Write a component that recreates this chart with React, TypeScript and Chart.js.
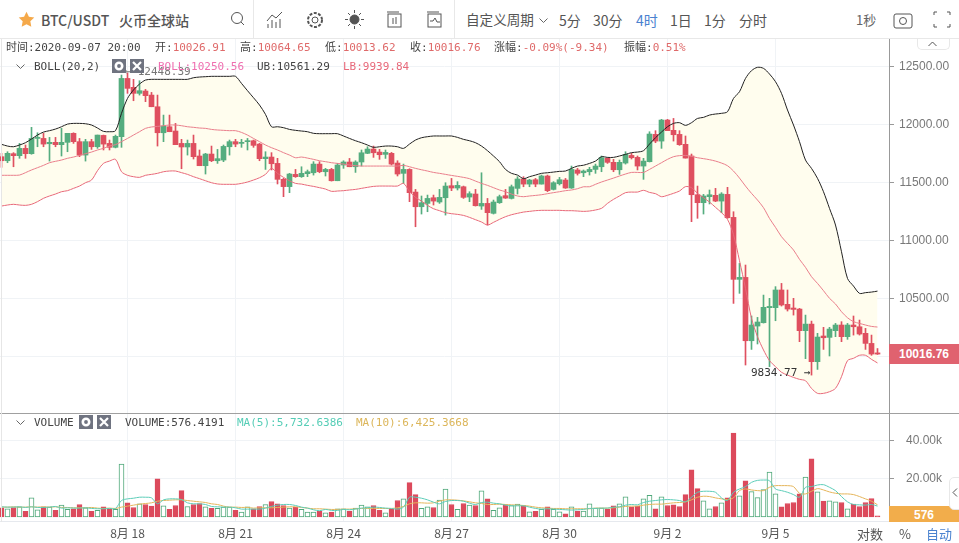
import React, { useRef, useEffect } from 'react';
import { Chart, registerables } from 'chart.js';

Chart.register(...registerables);

// open, high, low, close of every 4h candle, 8月 14 20:00 to 9月 7 20:00
const candles: number[][] = [
  [11724,11753,11632,11689],[11689,11767,11672,11753],[11750,11759,11637,11733],[11733,11839,11710,11796],[11796,11825,11710,11750],
  [11750,11978,11745,11882],[11882,11931,11810,11891],[11882,11926,11810,11833],[11836,11891,11686,11848],[11848,11891,11810,11828],
  [11828,11969,11730,11848],[11848,11926,11767,11926],[11926,11931,11839,11854],[11854,11882,11724,11738],[11738,11874,11686,11854],
  [11854,11874,11787,11810],[11810,11911,11796,11911],[11908,11911,11782,11833],[11839,11868,11782,11805],[11805,11911,11800,11900],
  [11897,12430,11805,12401],[12401,12448.39,12272,12315],[12324,12393,12208,12272],[12272,12381,12257,12295],[12292,12306,12200,12252],
  [12257,12280,12156,12156],[12156,12257,11816,11931],[11931,12084,11854,11989],[11983,12084,11940,11940],[11946,12012,11828,11828],
  [11839,11874,11620,11808],[11808,11868,11738,11839],[11839,11911,11704,11724],[11730,11782,11646,11646],[11646,11753,11574,11747],
  [11747,11816,11681,11689],[11689,11787,11666,11707],[11695,11825,11681,11813],[11810,11868,11738,11854],[11854,11874,11810,11833],
  [11839,11874,11805,11848],[11854,11882,11782,11862],[11862,11868,11805,11822],[11833,11839,11689,11707],[11707,11767,11614,11721],
  [11721,11759,11609,11663],[11666,11710,11488,11528],[11528,11537,11378,11465],[11465,11580,11413,11574],[11571,11614,11545,11551],
  [11551,11637,11545,11580],[11577,11609,11551,11594],[11585,11681,11565,11660],[11660,11681,11585,11594],[11594,11623,11557,11614],
  [11614,11623,11513,11516],[11516,11666,11516,11652],[11652,11689,11623,11678],[11678,11709,11637,11637],[11637,11689,11588,11678],
  [11678,11782,11643,11758],[11753,11810,11750,11790],[11790,11816,11718,11758],[11764,11787,11701,11741],[11744,11782,11709,11761],
  [11753,11761,11652,11660],[11669,11689,11557,11574],[11580,11660,11493,11614],[11614,11620,11335,11413],[11418,11441,11118,11291],
  [11291,11384,11228,11326],[11320,11392,11248,11363],[11369,11392,11306,11340],[11332,11441,11320,11372],[11369,11499,11219,11470],
  [11473,11536,11430,11453],[11453,11508,11436,11476],[11464,11470,11363,11372],[11375,11421,11335,11404],[11401,11441,11297,11300],
  [11297,11585,11268,11320],[11320,11363,11133,11240],[11234,11349,11228,11332],[11326,11392,11320,11378],[11387,11441,11363,11366],
  [11363,11479,11358,11464],[11450,11551,11401,11531],[11531,11551,11464,11487],[11487,11528,11464,11522],[11525,11536,11464,11487],
  [11487,11565,11487,11557],[11557,11565,11421,11430],[11441,11508,11436,11499],[11490,11545,11479,11525],[11522,11536,11450,11453],
  [11453,11643,11450,11614],[11609,11623,11565,11580],[11585,11609,11551,11600],[11594,11632,11565,11614],[11614,11660,11580,11643],
  [11637,11730,11594,11715],[11710,11715,11666,11675],[11675,11701,11594,11611],[11611,11695,11571,11675],[11669,11767,11660,11744],
  [11735,11753,11704,11715],[11718,11730,11609,11643],[11643,11710,11528,11686],[11681,11940,11678,11920],[11917,11949,11845,11859],
  [11859,12047,11796,12041],[12041,12047,11949,11949],[11952,12055,11859,11914],[11917,11949,11822,11828],[11831,11903,11712,11712],
  [11730,11747,11162,11395],[11395,11470,11191,11326],[11326,11398,11228,11384],[11378,11436,11315,11395],[11390,11450,11335,11340],
  [11340,11413,11240,11401],[11398,11459,11191,11196],[11199,11248,10455,10663],[10663,10801,10542,10680],[10680,10787,9922,10132],
  [10132,10346,10057,10268],[10259,10334,10104,10294],[10288,10527,10285,10421],[10418,10499,9908,10429],[10418,10600,10305,10571],
  [10571,10628,10432,10441],[10447,10571,10389,10406],[10415,10499,10354,10403],[10406,10412,10124,10219],[10219,10354,9977,10276],
  [10276,10302,9834.77,9951],[9951,10196,9884,10164],[10173,10248,10057,10158],[10161,10248,10000,10233],[10219,10282,10167,10268],
  [10268,10297,10124,10167],[10167,10282,10144,10268],[10268,10346,10181,10253],[10253,10311,10181,10190],[10196,10239,10057,10109],
  [10109,10181,10006,10017],[10026.91,10064.65,10013.62,10016.76],
];

const upperBand = [
  11831,11816,11810,11825,11845,11877,11911,11937,11949,11963,11983,12006,12012,12012,12009,11998,11972,11943,11940,11949,
  12099,12228,12301,12352,12387,12393,12393,12393,12393,12393,12393,12393,12407,12413,12416,12419,12419,12419,12419,12419,
  12358,12295,12234,12171,12090,11983,11983,11975,11960,11952,
  11946,11940,11926,11923,11923,11923,11923,11903,11882,11862,11845,11825,11805,11810,11816,11816,11810,11796,11833,11868,
  11888,11897,11903,11903,11903,11903,11891,11874,11862,11845,11816,11776,11730,11681,11614,11580,11565,11534,11551,11565,
  11580,11585,11591,11597,11600,11623,11643,
  11650,11666,11686,11724,11718,11718,11730,11744,11759,11764,11776,11833,11888,11937,11983,12012,12018,11995,12018,12055,
  12064,12084,12093,12099,12113,12228,12286,12401,12468,12497,12488,12439,12373,12272,12128,11998,11854,11695,11623,11537,
  11421,11277,11133,10902,10671,10605,10542,10548,10553,10561.29,
];

const midBand = [
  11563,11563,11563,11565,11586,11609,11629,11649,11672,11684,11695,11710,11721,11735,11750,11764,11782,11796,11816,11828,
  11854,11882,11911,11940,11969,11981,11986,11992,11998,11998,11992,11983,11978,11972,11969,11960,11955,11952,11949,11949,
  11934,11911,11882,11854,11825,11802,11782,11759,11738,11715,
  11721,11712,11701,11689,11681,11672,11666,11660,11652,11646,11643,11643,11643,11643,11643,11643,11643,11649,11637,11623,
  11611,11600,11588,11580,11571,11562,11554,11545,11534,11513,11493,11476,11456,11436,11421,11401,11384,11378,11384,11389,
  11395,11404,11413,11421,11430,11436,11447,11464,
  11464,11485,11505,11522,11539,11557,11574,11588,11588,11588,11614,11643,11672,11701,11724,11733,11735,11727,11715,11707,
  11698,11686,11669,11646,11600,11539,11470,11407,11349,11283,11190,11113,11032,10974,10917,10836,10767,10686,10628,10565,
  10499,10450,10383,10331,10297,10282,10268,10256,10250.56,
];

const lowerBand = [
  11297,11306,11312,11306,11303,11312,11335,11364,11384,11401,11421,11430,11450,11470,11499,11522,11603,11666,11686,11701,
  11594,11563,11551,11545,11563,11571,11580,11594,11600,11600,11586,11571,11551,11534,11516,11499,11488,11485,11485,11485,
  11493,11505,11522,11542,11571,11623,11580,11545,11516,11493,
  11487,11476,11467,11456,11444,11424,11427,11430,11436,11441,11450,11459,11467,11470,11470,11470,11470,11493,11424,11372,
  11340,11303,11274,11257,11240,11231,11225,11216,11199,11179,11159,11133,11156,11182,11205,11222,11234,11245,11251,11257,
  11260,11260,11260,11260,11257,11257,11254,11251,
  11254,11263,11277,11320,11355,11384,11413,11418,11418,11433,11415,11404,11378,11390,11407,11427,11465,11456,11407,11369,
  11332,11286,11240,11182,11050,10824,10585,10326,10167,10052,9960,9908,9859,9835,9815,9798,9786,9720,9677,9677,
  9691,9720,9821,9960,9980,10006,10006,9971,9939.84,
];

const volumes = [
  4844,4325,5017,5363,2941,10034,3806,5363,5190,3460,6228,3979,4325,6574,4844,2941,3460,5363,4325,3979,
  27680,7439,5017,6920,6574,5709,20068,5882,3979,6055,13840,5536,6574,7093,5363,4498,4498,5190,5190,3460,
  2595,5363,4325,5536,6574,8131,6920,6055,4671,5190,3979,2595,2595,3114,2249,2595,4325,4325,3114,4671,
  6228,5363,6055,3460,2249,3979,8650,9515,17992,11764,4498,5363,5017,8823,14705,6574,3979,7093,6228,6055,
  13667,9515,3460,4844,6574,6055,6747,6055,2768,2941,3979,5363,3979,2768,1730,5363,3114,3114,6920,4671,
  4671,3979,5882,6920,10553,5363,5709,9515,11418,4325,10553,6055,6401,5536,11764,24739,14878,8477,4325,5536,
  7439,10034,43942,11072,19030,13321,10207,14359,23528,12110,5363,7093,7612,12110,20933,30448,13148,8304,8477,7958,
  7612,4325,6747,5536,7612,9688,576.4191,
];

const volumeMa5 = [
  5360,5190,5190,5360,5020,5360,5020,5020,5190,5540,4670,4840,4670,4670,4840,4500,4330,4330,4500,4500,
  8650,9520,9860,10380,10380,10030,6920,9000,9520,9520,9170,7440,6920,6920,6570,5540,5360,5190,5190,4840,
  4150,4150,4150,4150,4670,5540,6230,6570,6570,6060,5190,4670,3810,3290,
  3980,3460,3460,3980,3810,4150,4670,4840,5190,5020,4670,4500,4150,5190,10380,10380,9860,9000,7790,6920,
  8130,8650,8650,8300,7270,6570,7610,7790,7270,6920,6230,5880,5880,5880,5190,4500,4150,4330,4150,3980,
  3810,3630,3810,3980,4500,4500,4670,4670,5190,5360,6230,6570,6400,
  7610,8300,8650,9000,9170,9000,8650,7960,10380,12980,13490,13490,12980,10030,8650,12980,14710,15920,18170,19200,
  19380,19030,14710,13840,12980,11760,10380,15570,15920,16780,16950,15570,13840,10730,7960,6570,6400,6230,6570,5732.6,
];

const volumeMa10 = [
  5190,5190,5360,5190,5190,5360,5190,5360,5190,5360,5020,5020,4840,4840,4840,5020,4670,4500,4670,4500,
  5190,5710,6230,6750,7090,7440,8300,8650,8820,9000,9000,8650,8300,7960,7610,6920,6570,5710,5190,5190,
  5020,5020,4670,4840,4840,4840,5020,5190,5360,5360,5020,4670,4330,4330,
  4150,3980,3980,4150,4150,4330,4500,4500,4500,4500,4500,4500,4840,5540,6920,7440,7440,7270,7440,8300,
  9000,9000,8820,8480,7960,7440,7090,6570,6570,6750,6570,6400,6230,6060,5710,5190,4840,4670,4500,4500,
  4330,4330,4330,4330,4330,4670,4670,4670,4840,5190,5540,5710,5710,
  6230,6570,6750,6750,7090,7440,7610,7960,9000,10380,10900,10730,10030,9520,9170,10030,13840,14710,14190,13840,
  13840,15570,16440,16440,16440,15920,12460,12110,13490,14880,14190,13150,12460,12110,12110,11760,10730,9520,8300,6425.4,
];

const dateTickIndex = [21, 39, 57, 75, 93, 111, 129];
const dateTickLabels = ['8月 18', '8月 21', '8月 24', '8月 27', '8月 30', '9月 2', '9月 5'];
const priceTicks = [10000, 10500, 11000, 11500, 12000, 12500];
const volumeTicks = [20000, 40000];

const GREEN = '#55ad7f';
const RED = '#df5060';
const MONO = '"DejaVu Sans Mono", "Noto Sans CJK SC", monospace';
const SANS = '"Noto Sans CJK SC", "Liberation Sans", sans-serif';

const isUp = (i: number) => candles[i][3] >= candles[i][0];
const candleColors = candles.map((_, i) => (isUp(i) ? GREEN : RED));

// shared by both panes so the candles and volume bars line up, one slot is 6px
// the range puts candle centres on x.5 so the 5px bars land on whole pixels
const xAxis = (showLabels: boolean) => ({
  type: 'linear' as const,
  min: -0.25,
  max: 147.9167,
  offset: false,
  grid: { color: '#f0f3f6', offset: false, drawTicks: false },
  border: { display: showLabels, color: '#e6e9ee' },
  afterBuildTicks: (axis: any) => {
    axis.ticks = dateTickIndex.map((value) => ({ value }));
  },
  afterFit: (axis: any) => {
    axis.height = showLabels ? 21.5 : 0;
    axis.paddingLeft = 0;
    axis.paddingRight = 0;
  },
  ticks: {
    display: showLabels,
    autoSkip: false,
    maxRotation: 0,
    padding: 5,
    color: '#555',
    font: { family: SANS, size: 12 },
    callback: (value: any) => dateTickLabels[dateTickIndex.indexOf(Number(value))] ?? '',
  },
});

const yAxisBase = (padding: number) => ({
  position: 'right' as const,
  grid: { color: '#f0f3f6', tickColor: '#999', tickLength: 5 },
  border: { color: '#999' },
  afterFit: (axis: any) => {
    axis.width = 70;
    // no room for half a label above and below, the plot runs edge to edge
    axis.paddingTop = 0;
    axis.paddingBottom = 0;
  },
  ticks: {
    crossAlign: 'center' as const,
    padding,
    color: '#787878',
    font: { family: '"Liberation Sans"', size: 12 },
  },
});

// high and low of the visible range, written beside their candles
const extremeLabels = {
  id: 'extremeLabels',
  afterDatasetsDraw(chart: any) {
    const { ctx, scales } = chart;
    let hi = 0;
    let lo = 0;
    candles.forEach((c, i) => {
      if (c[1] > candles[hi][1]) hi = i;
      if (c[2] < candles[lo][2]) lo = i;
    });
    ctx.save();
    ctx.font = `11px ${MONO}`;
    ctx.textBaseline = 'middle';
    ctx.fillStyle = '#777';
    ctx.textAlign = 'left';
    ctx.fillText(`← ${candles[hi][1].toFixed(2)}`, scales.x.getPixelForValue(hi) - 3, scales.y.getPixelForValue(candles[hi][1]) - 1);
    ctx.fillStyle = '#333';
    ctx.textAlign = 'right';
    ctx.fillText(`${candles[lo][2].toFixed(2)} →`, scales.x.getPixelForValue(lo) - 1, scales.y.getPixelForValue(candles[lo][2]) - 2);
    ctx.restore();
  },
};

const bandLine = (label: string, values: number[], color: string, width: number, fill?: any) => ({
  type: 'line' as const,
  label,
  data: values.map((y, x) => ({ x, y })),
  borderColor: color,
  borderWidth: width,
  pointRadius: 0,
  tension: 0.3,
  fill: fill ?? false,
  backgroundColor: '#fffdee',
  order: 1,
});

const Text: React.FC<{ x: number; y: number; color?: string; size?: number; weight?: number; font?: string; children: React.ReactNode }> = ({
  x, y, color = '#444', size = 11, weight = 400, font = MONO, children,
}) => (
  <span
    style={{
      position: 'absolute', left: x, top: y, transform: 'translateY(-50%)', color, fontSize: size,
      fontFamily: font, fontWeight: weight, whiteSpace: 'pre', lineHeight: 1,
    }}
  >
    {children}
  </span>
);

const Icon: React.FC<{ x: number; y: number; w?: number; h?: number; children: React.ReactNode }> = ({ x, y, w = 20, h = 20, children }) => (
  <svg width={w} height={h} viewBox={`0 0 ${w} ${h}`} fill="none" stroke="#555" strokeWidth={1}
    style={{ position: 'absolute', left: x, top: y }}>
    {children}
  </svg>
);

const Chip: React.FC<{ x: number; y: number; gear?: boolean }> = ({ x, y, gear }) => (
  <svg width={14} height={14} viewBox="0 0 14 14" style={{ position: 'absolute', left: x, top: y }}>
    <rect width={14} height={14} fill="#6f7380" />
    {gear
      ? <circle cx={7} cy={7} r={3.2} fill="none" stroke="#fff" strokeWidth={2.6} />
      : <path d="M3 3 L11 11 M11 3 L3 11" stroke="#fff" strokeWidth={2.2} />}
  </svg>
);

const Chevron: React.FC<{ x: number; y: number }> = ({ x, y }) => (
  <svg width={9} height={6} viewBox="0 0 9 6" style={{ position: 'absolute', left: x, top: y }}>
    <path d="M0.5 0.5 L4.5 4.5 L8.5 0.5" fill="none" stroke="#666" />
  </svg>
);

const App: React.FC = () => {
  const priceRef = useRef<HTMLCanvasElement | null>(null);
  const volumeRef = useRef<HTMLCanvasElement | null>(null);

  useEffect(() => {
    if (!priceRef.current || !volumeRef.current) return;

    const priceChart = new Chart(priceRef.current, {
      type: 'bar',
      data: {
        datasets: [
          bandLine('UB', upperBand, '#222', 1, { target: 1 }),
          bandLine('LB', lowerBand, '#e8697a', 1),
          bandLine('BOLL', midBand, '#ea7f8c', 1),
          {
            label: 'wick',
            data: candles.map((c, x) => ({ x, y: [c[2], c[1]] })),
            backgroundColor: candleColors,
            barThickness: 1,
            grouped: false,
            order: 2,
          },
          {
            label: 'body',
            data: candles.map((c, x) => ({ x, y: [c[0], c[3]] })),
            backgroundColor: candleColors,
            barThickness: 5,
            minBarLength: 1,
            grouped: false,
            order: 2,
          },
        ] as any,
      },
      options: {
        responsive: false,
        animation: false,
        layout: { padding: 0 },
        plugins: {
          legend: { display: false },
          tooltip: { enabled: false },
          // band fill goes under the candles, not just under its own line
          filler: { drawTime: 'beforeDatasetsDraw' },
        },
        scales: {
          x: xAxis(false),
          y: {
            ...yAxisBase(5),
            min: 9507,
            max: 12742,
            afterBuildTicks: (axis: any) => {
              axis.ticks = priceTicks.map((value) => ({ value }));
            },
            ticks: {
              ...yAxisBase(5).ticks,
              // the last price tag sits on top of the 10000 tick
              callback: (value: any) => (Number(value) === 10000 ? '' : Number(value).toFixed(2)),
            },
          },
        } as any,
      },
      plugins: [extremeLabels],
    });

    const volumeChart = new Chart(volumeRef.current, {
      type: 'bar',
      data: {
        datasets: [
          {
            type: 'line',
            label: 'MA(5)',
            data: volumeMa5.map((y, x) => ({ x, y })),
            borderColor: '#5ccdb8',
            borderWidth: 1,
            pointRadius: 0,
            tension: 0.3,
            order: 1,
          },
          {
            type: 'line',
            label: 'MA(10)',
            data: volumeMa10.map((y, x) => ({ x, y })),
            borderColor: '#e5b55a',
            borderWidth: 1,
            pointRadius: 0,
            tension: 0.3,
            order: 1,
          },
          {
            label: 'VOLUME',
            data: volumes.map((y, x) => ({ x, y })),
            backgroundColor: candles.map((_, i) => (isUp(i) ? '#fff' : '#dc4a5c')),
            borderColor: candles.map((_, i) => (isUp(i) ? '#4fa87a' : '#dc4a5c')),
            borderWidth: 1,
            borderSkipped: false,
            barThickness: 5,
            order: 2,
          },
        ] as any,
      },
      options: {
        responsive: false,
        animation: false,
        layout: { padding: 0 },
        plugins: { legend: { display: false }, tooltip: { enabled: false } },
        scales: {
          x: xAxis(true),
          y: {
            ...yAxisBase(12),
            min: -2340,
            max: 54500,
            afterBuildTicks: (axis: any) => {
              axis.ticks = volumeTicks.map((value) => ({ value }));
            },
            ticks: {
              ...yAxisBase(12).ticks,
              callback: (value: any) => `${(Number(value) / 1000).toFixed(2)}k`,
            },
          },
        } as any,
      },
    });

    return () => {
      priceChart.destroy();
      volumeChart.destroy();
    };
  }, []);

  return (
    <div style={{ position: 'fixed', left: 0, top: 0, width: 959, height: 543, background: '#fff', overflow: 'hidden' }}>
      <canvas ref={priceRef} width={959} height={374} style={{ position: 'absolute', left: 0, top: 39 }} />
      <canvas ref={volumeRef} width={959} height={130} style={{ position: 'absolute', left: 0, top: 413 }} />

      {/* frame lines */}
      <div style={{ position: 'absolute', left: 0, top: 38, width: 959, height: 1, background: '#e8e8e8' }} />
      <div style={{ position: 'absolute', left: 0, top: 413, width: 959, height: 1, background: '#a0a0a0' }} />
      <div style={{ position: 'absolute', left: 1, top: 39, width: 1, height: 483, background: '#e6e6e6' }} />
      <div style={{ position: 'absolute', left: 253, top: 0, width: 1, height: 38, background: '#e8e8e8' }} />
      <div style={{ position: 'absolute', left: 454, top: 0, width: 1, height: 38, background: '#e8e8e8' }} />

      {/* toolbar */}
      <svg width={17} height={17} viewBox="0 0 24 24" style={{ position: 'absolute', left: 18, top: 11 }}>
        <path d="M12 1 L15.4 8.2 L23 9.2 L17.4 14.6 L18.8 22.4 L12 18.6 L5.2 22.4 L6.6 14.6 L1 9.2 L8.6 8.2 Z" fill="#f5a94a" />
      </svg>
      <Text x={41} y={20} size={14} weight={500} font={SANS} color="#555">BTC/USDT</Text>
      <Text x={119} y={20} size={14} weight={500} font={SANS} color="#555">火币全球站</Text>
      <Icon x={229} y={10}><circle cx={8} cy={8} r={5.5} /><path d="M12 12 L15 15" /></Icon>
      <Icon x={265} y={10}><path d="M2 11 L7 5 L11 8 L17 2 M3 18 V14 M7 18 V10 M11 18 V12 M15 18 V9" /></Icon>
      <Icon x={305} y={10}><circle cx={10} cy={10} r={3} /><circle cx={10} cy={10} r={7} strokeDasharray="3 1.5" strokeWidth={2} /></Icon>
      <Icon x={344} y={9} w={21} h={21}><circle cx={10.5} cy={10.5} r={4.5} fill="#555" /><path d="M10.5 1 V4 M10.5 17 V20 M1 10.5 H4 M17 10.5 H20 M4 4 L6 6 M15 15 L17 17 M17 4 L15 6 M6 15 L4 17" /></Icon>
      <Icon x={386} y={11}><rect x={2} y={3} width={13} height={13} /><path d="M1 1 H13 M7 7 V13 M10 6 V13" /></Icon>
      <Icon x={426} y={11}><rect x={2} y={3} width={13} height={13} /><path d="M1 1 H13 M4 10 H7 L9 7 L11 11 H14" /></Icon>
      <Text x={466} y={20} size={13.6} font={SANS} color="#555">自定义周期</Text>
      <Chevron x={539} y={18} />
      <Text x={559} y={20} size={14} font={SANS} color="#555">5分</Text>
      <Text x={593} y={20} size={14} font={SANS} color="#555">30分</Text>
      <Text x={636} y={20} size={14} font={SANS} color="#4a82cf">4时</Text>
      <Text x={670} y={20} size={14} font={SANS} color="#555">1日</Text>
      <Text x={704} y={20} size={14} font={SANS} color="#555">1分</Text>
      <Text x={739} y={20} size={14} font={SANS} color="#555">分时</Text>
      <Text x={856} y={19} size={13} font={SANS} color="#666">1秒</Text>
      <Icon x={892} y={10} w={22} h={20}><rect x={2} y={4} width={18} height={14} rx={2} /><circle cx={11} cy={11} r={3.5} /></Icon>
      <Icon x={932} y={10}><path d="M2 5 V2 H5 M15 2 H18 V5 M2 14 V17 H5 M18 14 V17 H15" /></Icon>

      {/* ohlc row */}
      <Text x={6} y={47}>时间:2020-09-07 20:00</Text>
      <Text x={155} y={47}>开:<span style={{ color: '#df6a6a' }}>10026.91</span></Text>
      <Text x={240} y={47}>高:<span style={{ color: '#df6a6a' }}>10064.65</span></Text>
      <Text x={325} y={47}>低:<span style={{ color: '#df6a6a' }}>10013.62</span></Text>
      <Text x={410} y={47}>收:<span style={{ color: '#df6a6a' }}>10016.76</span></Text>
      <Text x={494} y={47}>涨幅:<span style={{ color: '#df6a6a' }}>-0.09%(-9.34)</span></Text>
      <Text x={624} y={47}>振幅:<span style={{ color: '#df6a6a' }}>0.51%</span></Text>

      {/* BOLL legend */}
      <Chevron x={16} y={64} />
      <Text x={34} y={66}>BOLL(20,2)</Text>
      <Chip x={112} y={59} gear />
      <Chip x={130} y={59} />
      <Text x={158} y={66} color="#ef6fb0">BOLL:10250.56</Text>
      <Text x={257} y={66}>UB:10561.29</Text>
      <Text x={343} y={66} color="#e8697a">LB:9939.84</Text>

      {/* volume legend */}
      <Chevron x={16} y={420} />
      <Text x={34} y={422}>VOLUME</Text>
      <Chip x={79} y={415} gear />
      <Chip x={97} y={415} />
      <Text x={125} y={422}>VOLUME:576.4191</Text>
      <Text x={237} y={422} color="#55cdb6">MA(5):5,732.6386</Text>
      <Text x={356} y={422} color="#dcb65a">MA(10):6,425.3668</Text>

      {/* axis tags */}
      <div style={{ position: 'absolute', left: 889, top: 344, width: 70, height: 20, background: '#e0626f', color: '#fff', font: '700 12px "Liberation Sans"', lineHeight: '20px', textAlign: 'center' }}>10016.76</div>
      <div style={{ position: 'absolute', left: 889, top: 506, width: 70, height: 16, background: '#f2ad4b', color: '#fff', font: '700 12px "Liberation Sans"', lineHeight: '18px', textAlign: 'center' }}>576</div>
      <div style={{ position: 'absolute', left: 917, top: 39, width: 31, height: 10, background: '#fff', border: '1px solid #e8e8e8', borderTop: 'none', borderRadius: '0 0 5px 5px' }} />
      <svg width={9} height={6} viewBox="0 0 9 6" style={{ position: 'absolute', left: 928, top: 41 }}>
        <path d="M0.5 5 L4.5 1 L8.5 5" fill="none" stroke="#555" />
      </svg>
      <div style={{ position: 'absolute', left: 949, top: 477, width: 12, height: 31, background: '#fff', border: '1px solid #e8e8e8', borderRadius: '5px 0 0 5px' }} />
      <svg width={6} height={9} viewBox="0 0 6 9" style={{ position: 'absolute', left: 952, top: 488 }}>
        <path d="M5 0.5 L1 4.5 L5 8.5" fill="none" stroke="#555" />
      </svg>
      <Text x={857} y={533} size={13} font={SANS} color="#555">对数</Text>
      <Text x={899} y={533} size={13} font={SANS} color="#555">%</Text>
      <Text x={926} y={533} size={13} font={SANS} color="#4a82cf">自动</Text>
    </div>
  );
};

export default App;
